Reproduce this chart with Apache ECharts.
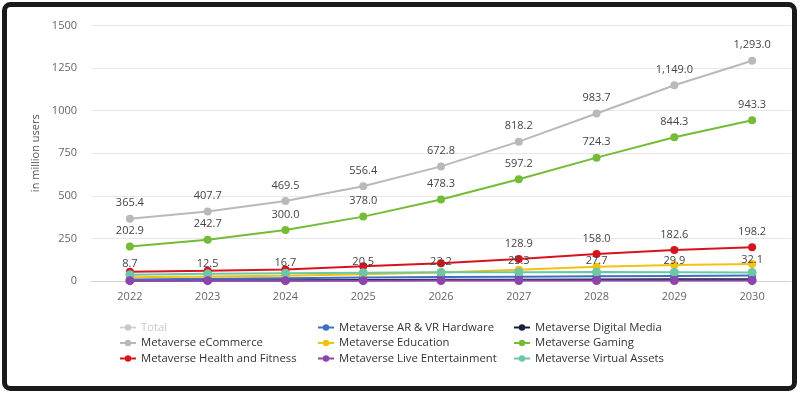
<!DOCTYPE html>
<html><head><meta charset="utf-8">
<script src="https://cdn.jsdelivr.net/npm/echarts@6/dist/echarts.min.js"></script>
<style>html,body{margin:0;padding:0;background:#fff}#c{width:800px;height:394px}</style>
</head><body><div id="c"></div>
<script>
const years = ['2022','2023','2024','2025','2026','2027','2028','2029','2030'];
const total = [];
const eCommerce = [365.4, 407.7, 469.5, 556.4, 672.8, 818.2, 983.7, 1149.0, 1293.0];
const gaming = [202.9, 242.7, 300.0, 378.0, 478.3, 597.2, 724.3, 844.3, 943.3];
const health = [55, 60, 68, 87, 104, 128.9, 158.0, 182.6, 198.2];
const healthLabelShown = [false, false, false, false, false, true, true, true, true];
const arvr = [8.7, 12.5, 16.7, 20.5, 23.2, 25.3, 27.7, 29.9, 32.1];
const education = [22, 26, 31, 40, 50, 66, 84, 94, 100];
const digitalMedia = [3, 4, 5, 6, 7, 8, 9, 10, 11];
const liveEnt = [2, 2, 2, 2, 3, 3, 3, 3, 3];
const virtualAssets = [37, 42, 46, 49, 51, 52, 53, 52, 50];
const yTicks = [0, 250, 500, 750, 1000, 1250, 1500];

const FONT = '"Open Sans", "Liberation Sans", sans-serif';
const fmt = v => Number(v).toLocaleString('en-US', {minimumFractionDigits: 1, maximumFractionDigits: 1});
const lbl = {show: true, position: 'top', distance: 6, color: '#444', fontSize: 11, fontFamily: FONT,
  formatter: p => fmt(p.value)};

function line(name, data, color, opts) {
  return Object.assign({
    name, type: 'line', data, symbol: 'circle', symbolSize: 8,
    lineStyle: {width: 2, color}, itemStyle: {color}, label: {show: false}
  }, opts || {});
}

const chart = echarts.init(document.getElementById('c'));
const legendBase = {orient: 'vertical', itemWidth: 16, itemHeight: 8, itemGap: 4.5,
  textStyle: {fontSize: 11.3, color: '#333', fontFamily: FONT}, inactiveColor: '#c8c8c8',
  selected: {'Total': false}};
chart.setOption({
  animation: false,
  textStyle: {fontFamily: FONT},
  graphic: [{type: 'rect', shape: {x: 4.5, y: 4.5, width: 790, height: 384, r: 6},
    style: {fill: 'none', stroke: '#1a1a1a', lineWidth: 5}, z: 100}],
  grid: {left: 91, right: 9, top: 25.5, bottom: 113},
  legend: [
    Object.assign({}, legendBase, {left: 114, top: 317, data: ['Total', 'Metaverse eCommerce', 'Metaverse Health and Fitness']}),
    Object.assign({}, legendBase, {left: 312, top: 317, data: ['Metaverse AR & VR Hardware', 'Metaverse Education', 'Metaverse Live Entertainment']}),
    Object.assign({}, legendBase, {left: 508, top: 317, data: ['Metaverse Digital Media', 'Metaverse Gaming', 'Metaverse Virtual Assets']})
  ],
  xAxis: {type: 'category', data: years, boundaryGap: true,
    axisLine: {lineStyle: {color: '#d0d0d0'}}, axisTick: {show: false},
    axisLabel: {color: '#666', fontSize: 11, margin: 10, fontFamily: FONT}},
  yAxis: {type: 'value', min: yTicks[0], max: yTicks[yTicks.length - 1], interval: 250,
    name: 'in million users', nameLocation: 'middle', nameGap: 47,
    nameTextStyle: {color: '#555', fontSize: 11, fontFamily: FONT},
    axisLabel: {color: '#666', fontSize: 11, margin: 14, fontFamily: FONT, formatter: v => String(v)},
    splitLine: {lineStyle: {color: '#e8e8e8'}}},
  series: [
    line('Total', total, '#cfcfcf'),
    line('Metaverse eCommerce', eCommerce, '#b9b9b9', {label: lbl}),
    line('Metaverse Gaming', gaming, '#74bc35', {label: lbl}),
    line('Metaverse Health and Fitness', health.map((v, i) => ({value: v, label: {show: healthLabelShown[i]}})), '#d7141d', {label: lbl}),
    line('Metaverse Digital Media', digitalMedia, '#14213d'),
    line('Metaverse AR & VR Hardware', arvr, '#3f6fc2', {label: lbl}),
    line('Metaverse Education', education, '#f3c10f'),
    line('Metaverse Virtual Assets', virtualAssets, '#6cc7a4', {symbolSize: 9}),
    line('Metaverse Live Entertainment', liveEnt, '#8d44ad', {symbolSize: 9})
  ]
});
</script></body></html>
